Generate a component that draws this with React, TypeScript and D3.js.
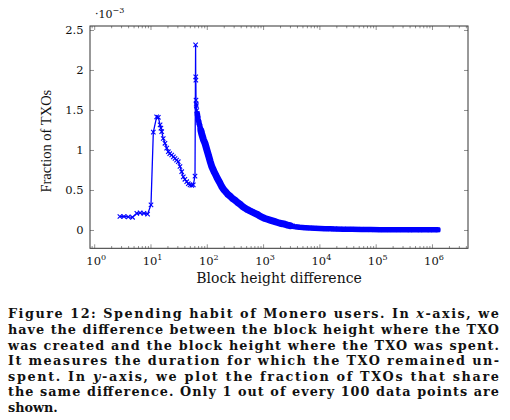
import React from "react";
import * as d3 from "d3";

// Block height difference (x) and fraction of TXOs (y, in units of 1e-3)
const blockDiff: number[] = [
  2.8, 3.3, 3.95, 4.7, 5.6, 6.4, 7.5, 8.7, 10, 11, 12.6, 13.5, 14.5, 15, 15.5, 16.5,
  17.7, 19, 20.3, 21.5, 23.3, 25, 26.7, 28.5, 30.5, 32.7, 35.1, 37.5, 40, 43.1, 46,
  49.3, 53, 56.4, 60.5, 62, 62.3, 62.6, 63, 63.5, 64, 65, 66.5, 68.4, 71, 74, 77, 79.5,
  85, 91, 99, 107, 113, 120, 131, 140, 149, 163, 180, 196, 215, 233, 253, 280, 310,
  345, 381, 423, 468, 520, 573, 635, 703, 780, 863, 955, 1059, 1170, 1300, 1440, 1594,
  1770, 1955, 2170, 2400, 2660, 2944, 3260, 3612, 4430, 5438, 6670, 8185, 10040, 12300,
  15100, 18500, 26500, 37150, 55000, 80000, 116700, 170000, 250000, 398000, 600000,
  900000, 1250000,
];
const fraction: number[] = [
  0.175, 0.175, 0.17, 0.165, 0.215, 0.22, 0.215, 0.205, 0.32, 1.23, 1.42, 1.415, 1.32,
  1.28, 1.235, 1.15, 1.09, 1.03, 0.985, 0.96, 0.944, 0.92, 0.9, 0.88, 0.86, 0.8, 0.735,
  0.67, 0.64, 0.61, 0.585, 0.57, 0.565, 0.57, 0.68, 2.32, 1.92, 1.88, 1.63, 1.58, 1.56,
  1.5, 1.46, 1.4, 1.35, 1.3, 1.25, 1.21, 1.14, 1.09, 1.0, 0.92, 0.86, 0.8, 0.74, 0.7,
  0.66, 0.61, 0.55, 0.51, 0.48, 0.45, 0.43, 0.4, 0.38, 0.35, 0.33, 0.3, 0.28, 0.26,
  0.245, 0.23, 0.215, 0.2, 0.18, 0.165, 0.15, 0.14, 0.13, 0.12, 0.11, 0.1, 0.09, 0.085,
  0.078, 0.068, 0.06, 0.054, 0.048, 0.04, 0.035, 0.031, 0.028, 0.025, 0.022, 0.021,
  0.02, 0.017, 0.015, 0.013, 0.011, 0.01, 0.009, 0.009, 0.008, 0.008, 0.008, 0.008,
];
const denseFrom = 66; // dense region start (many overlapping points)
const denserFrom = 76; // the band is widest in this part
const denserUpTo = 3000;

const yTicks: number[] = [0, 0.5, 1, 1.5, 2, 2.5];
const yTickLabels: string[] = ["0", "0.5", "1", "1.5", "2", "2.5"];
const xDecades: number[] = [0, 1, 2, 3, 4, 5, 6];

const captionLines: { parts: { t: string; it?: boolean }[]; justify: boolean }[] = [
  { parts: [{ t: "Figure 12: Spending habit of Monero users. In " }, { t: "x", it: true }, { t: "-axis, we" }], justify: true },
  { parts: [{ t: "have the difference between the block height where the TXO" }], justify: true },
  { parts: [{ t: "was created and the block height where the TXO was spent." }], justify: true },
  { parts: [{ t: "It measures the duration for which the TXO remained un-" }], justify: true },
  { parts: [{ t: "spent. In " }, { t: "y", it: true }, { t: "-axis, we plot the fraction of TXOs that share" }], justify: true },
  { parts: [{ t: "the same difference. Only 1 out of every 100 data points are" }], justify: true },
  { parts: [{ t: "shown." }], justify: false },
];

const BLUE = "#0000ff";

export default function App() {
  const left = 90, right = 468, top = 26, bottom = 248.3;
  const x = d3
    .scaleLog()
    .domain([Math.pow(10, -0.0835), Math.pow(10, 6.631)])
    .range([left, right]);
  const y = d3.scaleLinear().domain([-0.2225, 2.556]).range([bottom, top]);

  const pts = blockDiff.map((b, i) => [b, fraction[i]] as [number, number]);
  const line = d3
    .line<[number, number]>()
    .x((d) => x(d[0]))
    .y((d) => y(d[1]));
  const dense = pts.filter((d) => d[0] >= denseFrom);
  const denser = pts.filter((d) => d[0] >= denserFrom && d[0] <= denserUpTo);

  const [d0, d1] = x.domain();
  const minor: number[] = [];
  for (let e = -1; e <= 6; e++) {
    for (let k = 2; k <= 9; k++) {
      const v = k * Math.pow(10, e);
      if (v > d0 && v < d1) minor.push(v);
    }
  }

  const ms = 2.2;
  const serif = "'DejaVu Serif', serif";

  return (
    <svg
      width={510}
      height={420}
      style={{ position: "absolute", left: 0, top: 0, background: "#fff" }}
      fontFamily={serif}
    >
      {/* ticks */}
      <g stroke="#777" strokeWidth={0.8}>
        {xDecades.map((e) => {
          const px = x(Math.pow(10, e));
          return (
            <g key={"xd" + e}>
              <line x1={px} x2={px} y1={bottom} y2={bottom - 4} />
              <line x1={px} x2={px} y1={top} y2={top + 4} />
            </g>
          );
        })}
        {minor.map((v, i) => {
          const px = x(v);
          return (
            <g key={"xm" + i}>
              <line x1={px} x2={px} y1={bottom} y2={bottom - 2.3} />
              <line x1={px} x2={px} y1={top} y2={top + 2.3} />
            </g>
          );
        })}
        {yTicks.map((t) => (
          <g key={"yt" + t}>
            <line x1={left} x2={left + 4} y1={y(t)} y2={y(t)} />
            <line x1={right} x2={right - 4} y1={y(t)} y2={y(t)} />
          </g>
        ))}
      </g>

      {/* data */}
      <path d={line(dense) || ""} fill="none" stroke={BLUE} strokeWidth={5.5} strokeLinejoin="round" strokeLinecap="round" />
      <path d={line(denser) || ""} fill="none" stroke={BLUE} strokeWidth={7} strokeLinejoin="round" strokeLinecap="round" />
      <path d={line(pts) || ""} fill="none" stroke={BLUE} strokeWidth={1.3} strokeLinejoin="round" />
      <g stroke={BLUE} strokeWidth={1.1}>
        {pts.map((d, i) => {
          const cx = x(d[0]);
          const cy = y(d[1]);
          return (
            <path
              key={"m" + i}
              d={`M${cx - ms},${cy - ms}L${cx + ms},${cy + ms}M${cx - ms},${cy + ms}L${cx + ms},${cy - ms}`}
            />
          );
        })}
      </g>

      {/* frame */}
      <rect x={left} y={top} width={right - left} height={bottom - top} fill="none" stroke="#333" strokeWidth={1} />

      {/* y tick labels */}
      {yTicks.map((t, i) => (
        <text key={"yl" + t} x={83.5} y={y(t) + 4} fontSize={11.5} textAnchor="end" fill="#111">
          {yTickLabels[i]}
        </text>
      ))}
      {/* x tick labels */}
      {xDecades.map((e) => (
        <text key={"xl" + e} x={x(Math.pow(10, e)) + 1.5} y={264.5} fontSize={11.5} textAnchor="middle" fill="#111">
          10
          <tspan fontSize={8} dy={-5}>
            {String(e)}
          </tspan>
        </text>
      ))}
      {/* scale factor */}
      <text x={95} y={18.3} fontSize={11} fill="#111">
        ·10
        <tspan fontSize={8} dy={-5}>
          −3
        </tspan>
      </text>

      {/* axis labels */}
      <text x={279} y={282.5} fontSize={14} textAnchor="middle" fill="#111">
        Block height difference
      </text>
      <text
        transform={`translate(51,${(top + bottom) / 2 + 4}) rotate(-90)`}
        fontSize={14.5}
        textAnchor="middle"
        fontFamily="'Liberation Serif', serif"
        fill="#111"
      >
        Fraction of TXOs
      </text>

      {/* caption */}
      {captionLines.map((ln, i) => (
        <text
          key={"c" + i}
          x={8}
          y={318.3 + i * 15.6}
          fontSize={12.8}
          fontWeight="bold"
          fill="#111"
          textLength={ln.justify ? 491 : undefined}
          lengthAdjust={ln.justify ? "spacing" : undefined}
        >
          {ln.parts.map((p, j) => (
            <tspan key={j} fontStyle={p.it ? "italic" : undefined}>
              {p.t}
            </tspan>
          ))}
        </text>
      ))}
    </svg>
  );
}
